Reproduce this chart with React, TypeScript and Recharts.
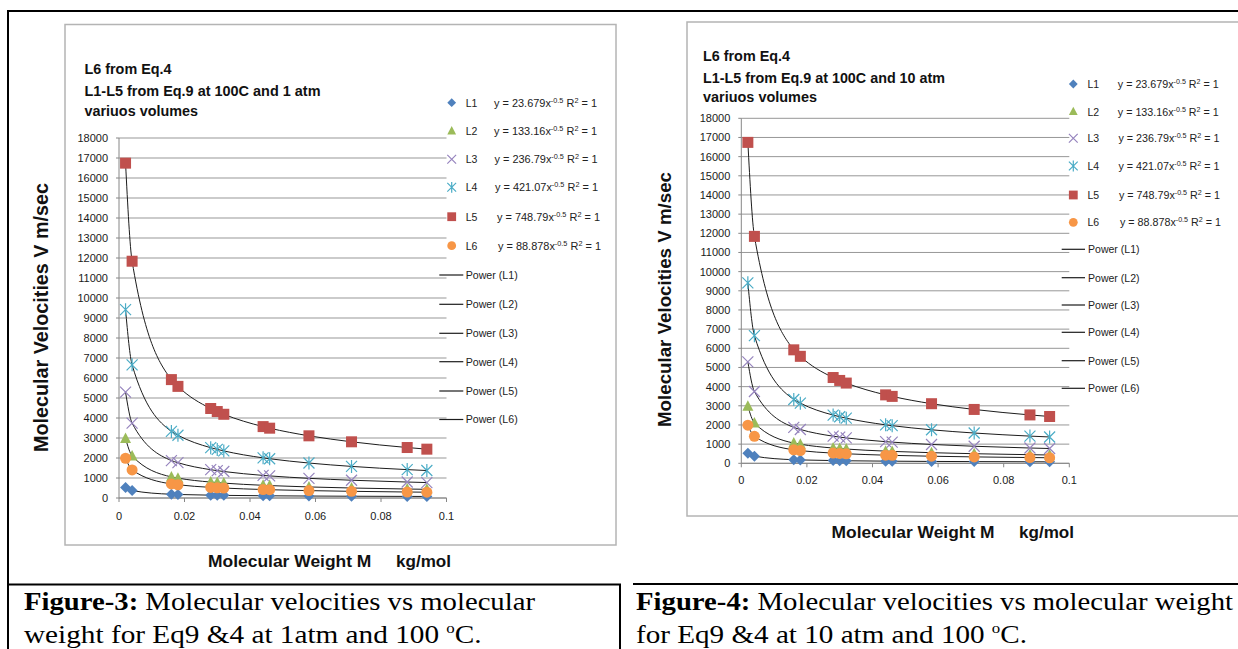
import React from 'react';
import { ComposedChart, Scatter, Line, XAxis, YAxis, CartesianGrid } from 'recharts';

// ---- data ----
const molecularWeight = [0.002, 0.004, 0.016, 0.018, 0.028, 0.03, 0.032, 0.044, 0.046, 0.058, 0.071, 0.088, 0.094];
const L1 = [529, 374, 187, 176, 142, 137, 132, 113, 110, 98, 89, 80, 77];
const L2 = [2978, 2105, 1053, 993, 796, 769, 744, 635, 621, 553, 500, 449, 434];
const L3 = [5295, 3744, 1872, 1765, 1415, 1367, 1324, 1129, 1104, 983, 889, 798, 772];
const L4 = [9415, 6658, 3329, 3139, 2516, 2431, 2354, 2007, 1963, 1748, 1580, 1419, 1373];
const L5 = [16743, 11839, 5920, 5581, 4475, 4323, 4186, 3570, 3491, 3109, 2810, 2524, 2442];
const L6 = [1987, 1405, 703, 662, 531, 513, 497, 424, 414, 369, 334, 300, 290];

const seriesNames = ['L1', 'L2', 'L3', 'L4', 'L5', 'L6'];
const seriesValues = [L1, L2, L3, L4, L5, L6];
const equationCoef = ['23.679', '133.16', '236.79', '421.07', '748.79', '88.878'];
const powerNames = ['Power (L1)', 'Power (L2)', 'Power (L3)', 'Power (L4)', 'Power (L5)', 'Power (L6)'];

const xTicks = [0, 0.02, 0.04, 0.06, 0.08, 0.1];
const xTickLabels = ['0', '0.02', '0.04', '0.06', '0.08', '0.1'];
const yTicks = [0, 1000, 2000, 3000, 4000, 5000, 6000, 7000, 8000, 9000, 10000, 11000, 12000, 13000, 14000, 15000, 16000, 17000, 18000];

const title1 = ['L6 from Eq.4', 'L1-L5 from Eq.9 at 100C and 1 atm', 'variuos volumes'];
const title2 = ['L6 from Eq.4', 'L1-L5 from Eq.9 at 100C and 10 atm', 'variuos volumes'];

const COLORS = ['#4F81BD', '#9BBB59', '#8064A2', '#4BACC6', '#C0504D', '#F79646'];
const SANS = "'Liberation Sans', Arial, sans-serif";
const SERIF = "'Liberation Serif', 'Times New Roman', serif";

const seriesData = seriesValues.map((vals) => molecularWeight.map((m, j) => ({ x: m, y: vals[j] })));

function marker(i: number, cx: number, cy: number, s: number = 1) {
  const c = COLORS[i];
  const a = 5.5 * s;
  switch (i) {
    case 0:
      return <path d={`M${cx},${cy - a}L${cx + a},${cy}L${cx},${cy + a}L${cx - a},${cy}Z`} fill={c} />;
    case 1:
      return <path d={`M${cx},${cy - a - 0.5}L${cx + a},${cy + a - 1}L${cx - a},${cy + a - 1}Z`} fill={c} />;
    case 2:
      return (
        <path d={`M${cx - a},${cy - a}L${cx + a},${cy + a}M${cx - a},${cy + a}L${cx + a},${cy - a}`} stroke="#9684BE" strokeWidth={1.2} fill="none" />
      );
    case 3:
      return (
        <path d={`M${cx - a},${cy - a}L${cx + a},${cy + a}M${cx - a},${cy + a}L${cx + a},${cy - a}M${cx},${cy - a - 1}L${cx},${cy + a + 1}`} stroke={c} strokeWidth={1.2} fill="none" />
      );
    case 4:
      return <rect x={cx - a} y={cy - a} width={2 * a} height={2 * a} fill={c} />;
    default:
      return <circle cx={cx} cy={cy} r={a} fill={c} />;
  }
}

type ChartProps = {
  left: number;
  top: number;
  width: number;
  height: number;
  margin: { top: number; right: number; bottom: number; left: number };
  xTickMargin: number;
};

function VelocityChart({ left, top, width, height, margin, xTickMargin }: ChartProps) {
  const tickStyle = { fontSize: 11, fill: '#1a1a1a', fontFamily: SANS };
  return (
    <div style={{ position: 'absolute', left, top, width, height }}>
      <ComposedChart width={width} height={height} margin={margin}>
        <CartesianGrid horizontal vertical={false} stroke="#979797" strokeWidth={1} />
        <XAxis
          dataKey="x"
          type="number"
          domain={[0, 0.1]}
          ticks={xTicks}
          interval={0}
          tickFormatter={(v: number) => xTickLabels[xTicks.indexOf(v)] ?? String(v)}
          tickSize={4}
          tickMargin={xTickMargin}
          stroke="#868686"
          tick={tickStyle}
          height={30}
        />
        <YAxis
          dataKey="y"
          type="number"
          domain={[0, 18000]}
          ticks={yTicks}
          interval={0}
          tickSize={3}
          tickMargin={8}
          stroke="#868686"
          tick={tickStyle}
          width={40}
        />
        {seriesData.map((d, i) => (
          <Scatter
            key={'s' + i}
            name={seriesNames[i]}
            data={d}
            dataKey="y"
            isAnimationActive={false}
            shape={(p: any) => marker(i, p.cx, p.cy)}
          />
        ))}
        {seriesData.map((d, i) => (
          <Line
            key={'l' + i}
            name={powerNames[i]}
            data={d}
            dataKey="y"
            type="monotone"
            dot={false}
            activeDot={false}
            stroke="#1c1c1c"
            strokeWidth={1}
            isAnimationActive={false}
          />
        ))}
      </ComposedChart>
    </div>
  );
}

type Deco = {
  titleX: number;
  titleY: number[];
  titleLen: number[];
  titles: string[];
  yTitle: { bx: number; cy: number; len: number; size: number };
  xTitle: { x1: number; len1: number; x2: number; len2: number; y: number };
  legend: {
    markerX: number;
    labelX: number;
    eqX: number[];
    eqLen: number;
    rows: number[];
    powerRows: number[];
    lineX1: number;
    lineX2: number;
    powerX: number;
    powerLen: number;
  };
};

function ChartDecorations({ d }: { d: Deco }) {
  const lg = d.legend;
  return (
    <g fontFamily={SANS}>
      {d.titles.map((t, i) => (
        <text key={'t' + i} x={d.titleX} y={d.titleY[i]} fontSize={14.4} fontWeight="bold" fill="#111" textLength={d.titleLen[i]} lengthAdjust="spacingAndGlyphs">
          {t}
        </text>
      ))}
      <text
        transform={`translate(${d.yTitle.bx},${d.yTitle.cy}) rotate(-90)`}
        x={0}
        y={0}
        textAnchor="middle"
        fontSize={d.yTitle.size}
        fontWeight="bold"
        fill="#111"
        textLength={d.yTitle.len}
        lengthAdjust="spacingAndGlyphs"
      >
        Molecular Velocities V m/sec
      </text>
      <text x={d.xTitle.x1} y={d.xTitle.y} fontSize={16.5} fontWeight="bold" fill="#111" textLength={d.xTitle.len1} lengthAdjust="spacingAndGlyphs">
        Molecular Weight M
      </text>
      <text x={d.xTitle.x2} y={d.xTitle.y} fontSize={16.5} fontWeight="bold" fill="#111" textLength={d.xTitle.len2} lengthAdjust="spacingAndGlyphs">
        kg/mol
      </text>
      {seriesNames.map((n, i) => (
        <g key={'lg' + i}>
          {marker(i, lg.markerX, lg.rows[i], 0.8)}
          <text x={lg.labelX} y={lg.rows[i] + 3.8} fontSize={10.5} fill="#222">
            {n}
          </text>
          <text x={lg.eqX[i]} y={lg.rows[i] + 3.8} fontSize={10.5} fill="#222" textLength={lg.eqLen} lengthAdjust="spacingAndGlyphs">
            {'y = ' + equationCoef[i] + 'x'}
            <tspan fontSize={7} dy={-4}>-0.5</tspan>
            <tspan dy={4}>{' R'}</tspan>
            <tspan fontSize={7} dy={-4}>2</tspan>
            <tspan dy={4}>{' = 1'}</tspan>
          </text>
        </g>
      ))}
      {powerNames.map((n, i) => (
        <g key={'pw' + i}>
          <line x1={lg.lineX1} x2={lg.lineX2} y1={lg.powerRows[i]} y2={lg.powerRows[i]} stroke="#1c1c1c" strokeWidth={1.2} />
          <text x={lg.powerX} y={lg.powerRows[i] + 3.8} fontSize={10.5} fill="#222" textLength={lg.powerLen} lengthAdjust="spacingAndGlyphs">
            {n}
          </text>
        </g>
      ))}
    </g>
  );
}

const deco1: Deco = {
  titleX: 84.5,
  titleY: [73.5, 95.7, 115.7],
  titleLen: [87, 236, 113.5],
  titles: title1,
  yTitle: { bx: 48, cy: 317.5, len: 269, size: 19.5 },
  xTitle: { x1: 208, len1: 163.4, x2: 396, len2: 55, y: 567 },
  legend: {
    markerX: 451.7,
    labelX: 465.7,
    eqX: [494, 494, 494.5, 495, 497, 498],
    eqLen: 103,
    rows: [102.7, 131, 159.3, 187.3, 216.7, 245.7],
    powerRows: [275, 304.3, 333.3, 361.7, 391, 419.5],
    lineX1: 439.3,
    lineX2: 463.3,
    powerX: 465.7,
    powerLen: 52,
  },
};

const deco2: Deco = {
  titleX: 703,
  titleY: [61, 82.7, 101.7],
  titleLen: [87, 242, 114],
  titles: title2,
  yTitle: { bx: 670.5, cy: 299.5, len: 255, size: 18.6 },
  xTitle: { x1: 831.6, len1: 162.9, x2: 1019, len2: 55, y: 538.3 },
  legend: {
    markerX: 1073.3,
    labelX: 1087.5,
    eqX: [1117.8, 1117.8, 1118.5, 1118.5, 1119, 1120],
    eqLen: 101,
    rows: [84, 111.7, 138.3, 166, 195, 222.3],
    powerRows: [249.3, 277.7, 305, 332.3, 360.7, 388.3],
    lineX1: 1061.7,
    lineX2: 1085,
    powerX: 1088,
    powerLen: 51.5,
  },
};

export default function App() {
  return (
    <div style={{ position: 'absolute', left: 0, top: 0, width: 1238, height: 649, background: '#fff', overflow: 'hidden' }}>
      <VelocityChart left={65} top={24} width={551} height={521} margin={{ top: 114, right: 169.5, bottom: 17, left: 14 }} xTickMargin={10} />
      <VelocityChart left={687} top={22} width={551} height={494} margin={{ top: 96.3, right: 168.7, bottom: 22.7, left: 14.3 }} xTickMargin={9} />
      <svg width={1238} height={649} style={{ position: 'absolute', left: 0, top: 0, pointerEvents: 'none' }}>
        {/* table borders */}
        <line x1={7} y1={11} x2={1238} y2={11} stroke="#000" strokeWidth={2} />
        <line x1={8} y1={10} x2={8} y2={649} stroke="#000" strokeWidth={2} />
        <line x1={7} y1={584.5} x2={621} y2={584.5} stroke="#000" strokeWidth={2} />
        <line x1={633} y1={584} x2={1238} y2={584} stroke="#000" strokeWidth={2} />
        <line x1={620} y1={584} x2={620} y2={649} stroke="#000" strokeWidth={2} />
        {/* chart boxes */}
        <rect x={65} y={24.5} width={551} height={520.5} fill="none" stroke="#b4b4b4" strokeWidth={1.5} />
        <rect x={687} y={22} width={600} height={494} fill="none" stroke="#b4b4b4" strokeWidth={1.5} />
        <ChartDecorations d={deco1} />
        <ChartDecorations d={deco2} />
        {/* captions */}
        <g fontFamily={SERIF} fontSize={26} fill="#000">
          <text x={24} y={610} textLength={511} lengthAdjust="spacingAndGlyphs">
            <tspan fontWeight="bold">Figure-3:</tspan>
            <tspan>{' Molecular velocities vs molecular'}</tspan>
          </text>
          <text x={24} y={643} textLength={457.6} lengthAdjust="spacingAndGlyphs">
            {'weight for Eq9 &4 at 1atm and 100 '}
            <tspan fontSize={15} dy={-10}>o</tspan>
            <tspan dy={10}>C.</tspan>
          </text>
          <text x={636} y={610} textLength={597} lengthAdjust="spacingAndGlyphs">
            <tspan fontWeight="bold">Figure-4:</tspan>
            <tspan>{' Molecular velocities vs molecular weight'}</tspan>
          </text>
          <text x={636} y={643} textLength={391} lengthAdjust="spacingAndGlyphs">
            {'for Eq9 &4 at 10 atm and 100 '}
            <tspan fontSize={15} dy={-10}>o</tspan>
            <tspan dy={10}>C.</tspan>
          </text>
        </g>
      </svg>
    </div>
  );
}
